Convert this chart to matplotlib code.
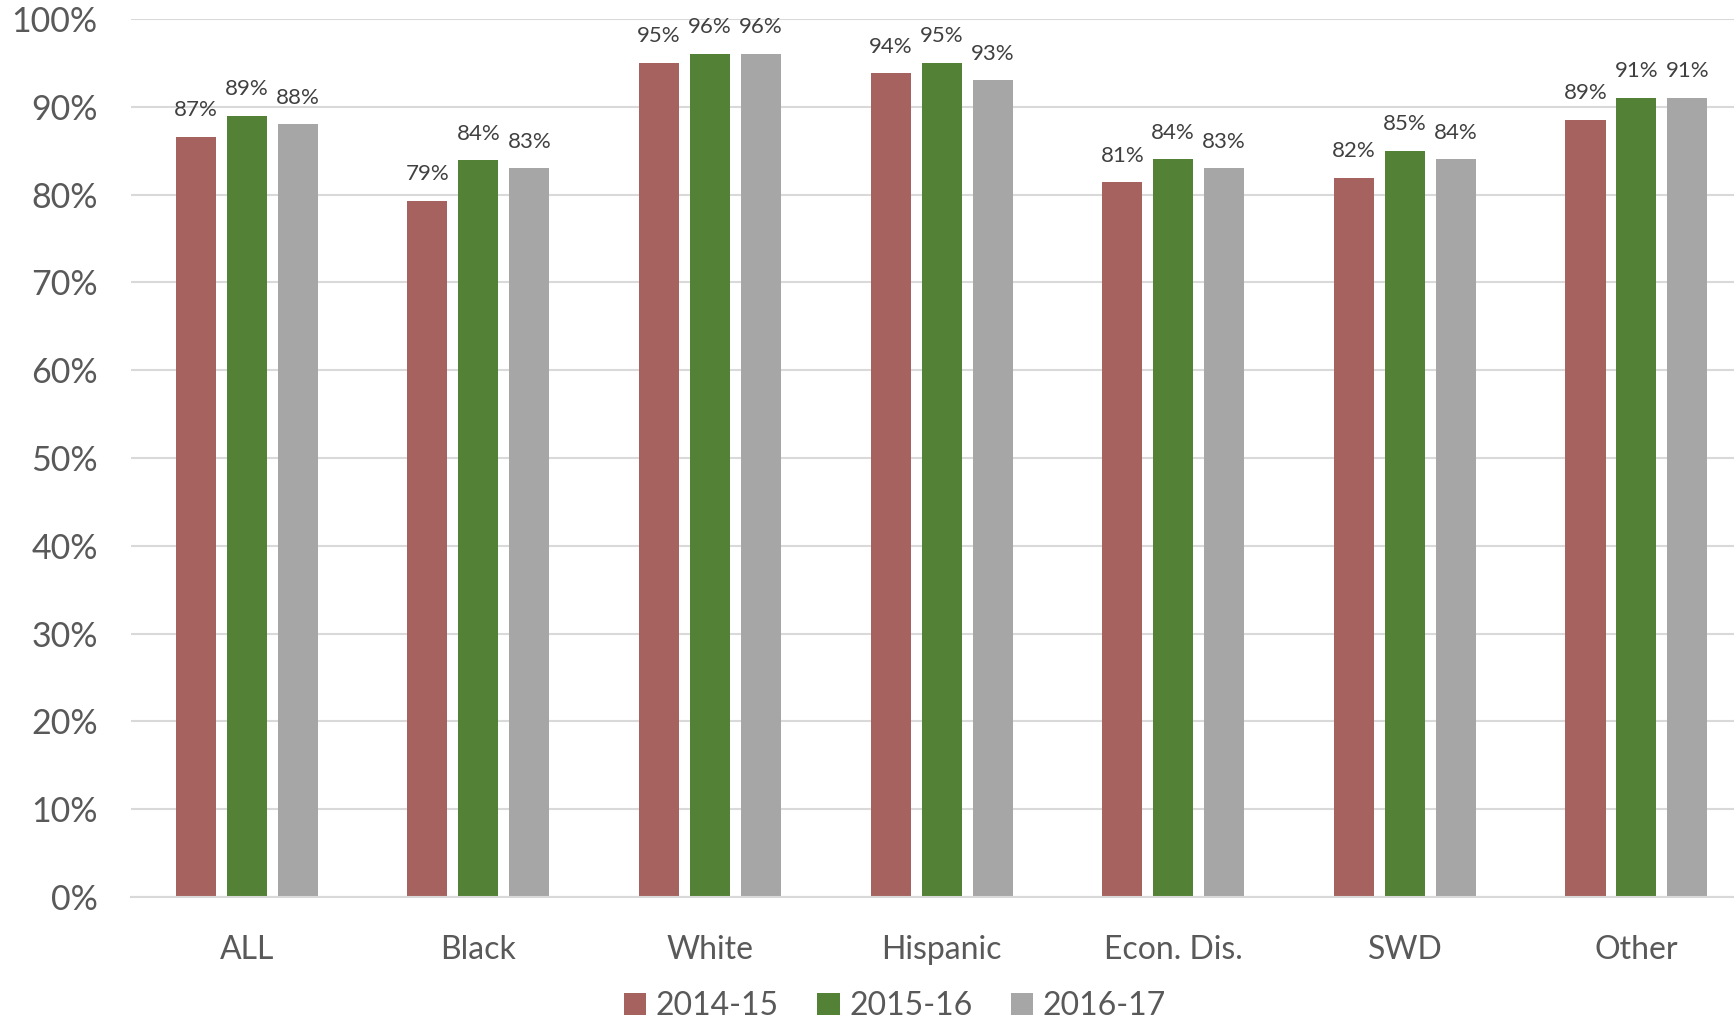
import matplotlib
matplotlib.use("Agg")
import matplotlib.pyplot as plt
import numpy as np

categories = ["ALL", "Black", "White", "Hispanic", "Econ. Dis.", "SWD", "Other"]
series_names = ["2014-15", "2015-16", "2016-17"]
v2014 = [86.6, 79.3, 95.0, 93.8, 81.4, 81.9, 88.5]
v2015 = [89.0, 83.9, 96.0, 95.0, 84.0, 85.0, 91.0]
v2016 = [88.0, 83.0, 96.0, 93.0, 83.0, 84.0, 91.0]
labels2014 = ["87%", "79%", "95%", "94%", "81%", "82%", "89%"]
labels2015 = ["89%", "84%", "96%", "95%", "84%", "85%", "91%"]
labels2016 = ["88%", "83%", "96%", "93%", "83%", "84%", "91%"]
yticks = [0, 10, 20, 30, 40, 50, 60, 70, 80, 90, 100]
ytick_labels = [f"{t}%" for t in yticks]

colors = ["#A5625E", "#538135", "#A6A6A6"]
font = "Lato"

W, H = 1734, 1022
fig = plt.figure(figsize=(W / 100, H / 100), dpi=100)
left_px, right_px, top_px, bot_px = 131, 1734, 19, 897
ax = fig.add_axes([left_px / W, 1 - bot_px / H, (right_px - left_px) / W, (bot_px - top_px) / H])

x = np.arange(len(categories))
bw = 0.173
step = 0.22
series = [v2014, v2015, v2016]
lbls = [labels2014, labels2015, labels2016]
bars = []
for i, (vals, lab) in enumerate(zip(series, lbls)):
    b = ax.bar(x + (i - 1) * step, vals, width=bw, color=colors[i], zorder=3, label=series_names[i])
    bars.append(b)
    for rect, t in zip(b, lab):
        ax.annotate(t, (rect.get_x() + rect.get_width() / 2, rect.get_height()),
                    xytext=(0, 12), textcoords="offset points", ha="center", va="bottom",
                    fontsize=16, color="#404040", family=font)

ax.set_ylim(0, 100)
ax.set_xlim(-0.5, (right_px - 247.5) / 231.5)
ax.set_yticks(yticks)
ax.set_yticklabels(ytick_labels, family=font, fontsize=24.5, color="#595959")
ax.set_xticks(x)
ax.set_xticklabels(categories, family=font, fontsize=23, color="#595959")
ax.tick_params(axis="y", length=0, pad=24)
ax.tick_params(axis="x", length=0, pad=27)
ax.grid(axis="y", color="#D9D9D9", linewidth=1.5, zorder=0)
for s in ["top", "right", "left"]:
    ax.spines[s].set_visible(False)
ax.spines["bottom"].set_color("#D9D9D9")
ax.spines["bottom"].set_linewidth(1.5)
ax.spines["bottom"].set_zorder(4)

leg = fig.legend(handles=bars, labels=series_names, loc="center", bbox_to_anchor=(895 / W, 1 - 1006 / H),
                 ncol=3, frameon=False, prop={"family": font, "size": 23}, handlelength=0.7,
                 handleheight=0.7, handletextpad=0.3, columnspacing=1.2, labelcolor="#595959")

fig.savefig("out.png", dpi=100)
